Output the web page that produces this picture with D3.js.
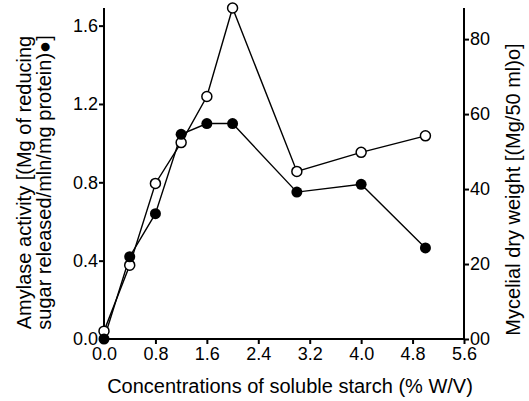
<!DOCTYPE html>
<html>
<head>
<meta charset="utf-8">
<script src="https://cdn.jsdelivr.net/npm/d3@7"></script>
<style>
  body { margin: 0; background: #fff; }
  text { font-family: "Liberation Sans", Arial, sans-serif; fill: #000; }
</style>
</head>
<body>
<div id="chart"></div>
<script>
// Data
var starch = [0, 0.4, 0.8, 1.2, 1.6, 2.0, 3.0, 4.0, 5.0];
var amylase = [0, 0.42, 0.64, 1.045, 1.10, 1.10, 0.75, 0.79, 0.465];
var mycelial = [2.1, 19.7, 41.5, 52.4, 64.7, 88.3, 44.7, 49.8, 54.2];

var xTicks = [0, 0.8, 1.6, 2.4, 3.2, 4.0, 4.8, 5.6];
var leftTicks = [0, 0.4, 0.8, 1.2, 1.6];
var rightTicks = [0, 20, 40, 60, 80];
var rightTickLabels = ["00", "20", "40", "60", "80"];

var W = 529, H = 401;
var margin = { top: 8, right: 65, bottom: 62, left: 104 };
var width = W - margin.left - margin.right;
var height = H - margin.top - margin.bottom;

var svg = d3
  .select("#chart")
  .append("svg")
  .attr("width", W)
  .attr("height", H)
  .append("g")
  .attr("transform", "translate(" + margin.left + "," + margin.top + ")");

var x = d3.scaleLinear().domain([0, 5.6]).range([0, width]);
var yL = d3.scaleLinear().domain([0, 1.69]).range([height, 0]);
var yR = d3.scaleLinear().domain([0, 88.3]).range([height, 0]);

// Axes
var tickSize = 18;
var titleSize = 20;

var gx = svg
  .append("g")
  .attr("transform", "translate(0," + height + ")")
  .call(
    d3.axisBottom(x).tickValues(xTicks).tickSize(5).tickPadding(3)
      .tickFormat(d3.format(".1f"))
  );

var gl = svg
  .append("g")
  .call(
    d3.axisLeft(yL).tickValues(leftTicks).tickSize(5).tickPadding(1)
      .tickFormat(d3.format(".1f"))
  );

var gr = svg
  .append("g")
  .attr("transform", "translate(" + width + ",0)")
  .call(
    d3.axisRight(yR).tickValues(rightTicks).tickSize(5).tickPadding(1)
      .tickFormat(function (d, i) { return rightTickLabels[i]; })
  );

[gx, gl, gr].forEach(function (g) {
  g.select(".domain").attr("stroke", "#000").attr("stroke-width", 2);
  g.selectAll(".tick line").attr("stroke", "#000").attr("stroke-width", 2);
  g.selectAll(".tick text")
    .attr("fill", "#000")
    .style("font-size", tickSize + "px")
    .style("font-family", "Liberation Sans, Arial, sans-serif");
});
// drop the outer tick stubs so the frame is clean
gx.select(".domain").attr("d", "M0,0H" + width);
gl.select(".domain").attr("d", "M0," + height + "V0");
gr.select(".domain").attr("d", "M0," + height + "V0");

// Axis titles
svg
  .append("text")
  .attr("x", width / 2 + 6)
  .attr("y", height + 54)
  .style("text-anchor", "middle")
  .style("font-size", titleSize + "px")
  .text("Concentrations of soluble starch (% W/V)");

var lt = svg
  .append("text")
  .attr("transform", "translate(" + (-margin.left + 31) + "," + (height / 2 + 9) + ") rotate(-90)")
  .style("text-anchor", "middle")
  .style("font-size", titleSize + "px");
lt.append("tspan").attr("x", 0).attr("dy", 0).text("Amylase activity [(Mg of reducing");
lt.append("tspan").attr("x", 0).attr("dy", "1.0em").text("sugar released/mln/mg protein)\u25CF]");

svg
  .append("text")
  .attr("transform", "translate(" + (width + 56) + "," + (height / 2 + 16) + ") rotate(-90)")
  .style("text-anchor", "middle")
  .style("font-size", titleSize + "px")
  .text("Mycelial dry weight [(Mg/50 ml)o]");

// Lines
var lineL = d3.line()
  .x(function (d, i) { return x(starch[i]); })
  .y(function (d) { return yL(d); });
var lineR = d3.line()
  .x(function (d, i) { return x(starch[i]); })
  .y(function (d) { return yR(d); });

svg.append("path").datum(mycelial)
  .attr("fill", "none").attr("stroke", "#000").attr("stroke-width", 1.4)
  .attr("d", lineR);
svg.append("path").datum(amylase)
  .attr("fill", "none").attr("stroke", "#000").attr("stroke-width", 1.4)
  .attr("d", lineL);

// Markers
svg.selectAll(".open").data(mycelial).enter().append("circle")
  .attr("class", "open")
  .attr("cx", function (d, i) { return x(starch[i]); })
  .attr("cy", function (d) { return yR(d); })
  .attr("r", 5)
  .attr("fill", "#fff").attr("stroke", "#000").attr("stroke-width", 1.5);

svg.selectAll(".filled").data(amylase).enter().append("circle")
  .attr("class", "filled")
  .attr("cx", function (d, i) { return x(starch[i]); })
  .attr("cy", function (d) { return yL(d); })
  .attr("r", 5.5)
  .attr("fill", "#000");
</script>
</body>
</html>
